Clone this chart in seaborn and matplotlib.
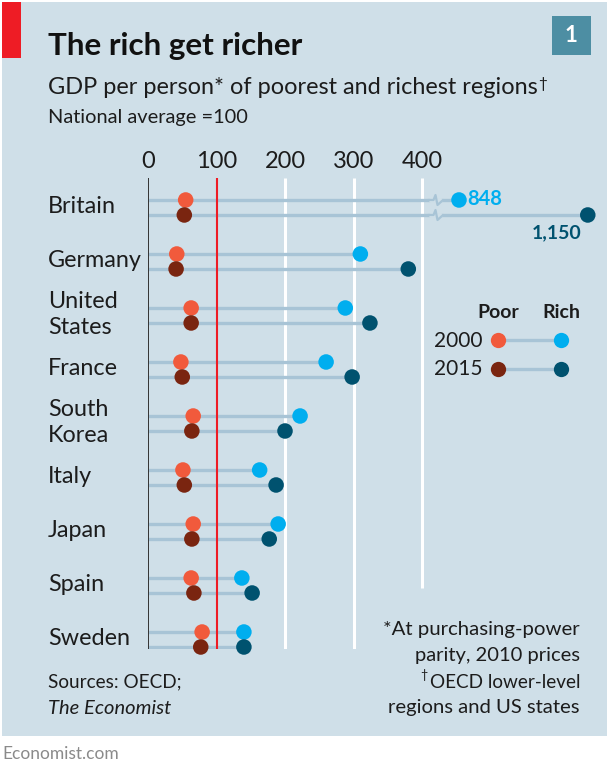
import numpy as np
import pandas as pd
import matplotlib
matplotlib.use("Agg")
import matplotlib.pyplot as plt
from matplotlib.lines import Line2D
from matplotlib.patches import Rectangle
import seaborn as sns

W, H = 609, 775

countries = ["Britain", "Germany", "United\nStates", "France", "South\nKorea",
             "Italy", "Japan", "Spain", "Sweden"]
poor_2000 = [55, 42, 63, 48, 66, 51, 66, 63, 79]
poor_2015 = [53, 41, 63, 50, 64, 53, 64, 67, 77]
rich_2000 = [848, 310, 288, 260, 222, 163, 190, 137, 140]
rich_2015 = [1150, 380, 324, 298, 200, 187, 177, 152, 140]
x_ticks = [0, 100, 200, 300, 400]

BG = "#cfdfe8"
LINE = "#a8c4d6"
RED = "#ee1c25"
POOR_00, POOR_15 = "#f15a3c", "#7a2510"
RICH_00, RICH_15 = "#00aeef", "#00526f"
INK = "#1c1c1c"

sns.set_theme(style="white")
plt.rcParams["font.family"] = ["Lato", "DejaVu Sans"]


def px(x, y):
    # pixel position in the image -> figure fraction
    return x / W, 1 - y / H


# the axis is broken after 400: the two outliers get squeezed in
def fwd(v):
    return np.interp(v, [-1000, 400, 848, 1150, 3000], [-1000, 400, 454, 642, 2500])


def inv(v):
    return np.interp(v, [-1000, 400, 454, 642, 2500], [-1000, 400, 848, 1150, 3000])


fig = plt.figure(figsize=(W / 100, H / 100), dpi=100, facecolor="white")
fig.add_artist(Rectangle(px(2, 736), 605 / W, 734 / H, transform=fig.transFigure,
                         fc=BG, ec="none", zorder=-5))
fig.add_artist(Rectangle(px(2, 58), 19 / W, 56 / H, transform=fig.transFigure,
                         fc=RED, ec="none", zorder=-4))
fig.add_artist(Rectangle(px(552, 55), 39 / W, 39 / H, transform=fig.transFigure,
                         fc="#4d8ea3", ec="none", zorder=-4))

ax = fig.add_axes([148 / W, 1 - 649 / H, (607 - 148) / W, (649 - 178) / H])
ax.patch.set_alpha(0)
ax.set_xscale("function", functions=(fwd, inv))
ax.set_xlim(0, inv(459 / 0.685))
ax.set_ylim(8.176, -0.546)
ax.axis("off")

rows = np.arange(len(countries))
off = 7.5 / 54
frames = []
for name, vals, dy in [("poor 2000", poor_2000, -off), ("rich 2000", rich_2000, -off),
                       ("poor 2015", poor_2015, off), ("rich 2015", rich_2015, off)]:
    frames.append(pd.DataFrame({"value": vals, "row": rows + dy, "series": name}))
df = pd.concat(frames, ignore_index=True)

# grid
ax.vlines(200, -0.546, 8.176, color="white", lw=2.2, zorder=1)
ax.vlines(300, -0.546, 8.176, color="white", lw=2.2, zorder=1)
ax.vlines(400, -0.546, 7.04, color="white", lw=2.2, zorder=1)

# connectors
ax.hlines(rows - off, 0, rich_2000, color=LINE, lw=2.4, zorder=2)
ax.hlines(rows + off, 0, rich_2015, color=LINE, lw=2.4, zorder=2)
ax.vlines(0, -0.546, 8.176, color="#333333", lw=1.4, zorder=3)
ax.vlines(100, -0.546, 8.176, color=RED, lw=1.5, zorder=3)

sns.scatterplot(data=df, x="value", y="row", hue="series", ax=ax, s=125, linewidth=0,
                palette={"poor 2000": POOR_00, "rich 2000": RICH_00,
                         "poor 2015": POOR_15, "rich 2015": RICH_15},
                legend=False, zorder=4, clip_on=False)
ax.axis("off")

# axis break squiggles
for yy in (200, 215):
    xs = np.array([428, 433.5, 435.5, 437.5, 443])
    ys = yy + np.array([0, 0, -5, 5, 0])
    fig.add_artist(Line2D([(x) / W for x in [431, 440]], [1 - yy / H] * 2, color=BG, lw=3.5, zorder=5))
    fig.add_artist(Line2D(xs / W, 1 - ys / H, color=LINE, lw=1.6, zorder=6))


def put(x, y, s, size, **kw):
    kw.setdefault("color", INK)
    kw.setdefault("va", "center")
    fig.text(*px(x, y), s, fontsize=size, **kw)


for v in x_ticks:
    put(148 + v * 0.685, 162, str(v), 17, ha="center")

for i, name in enumerate(countries):
    put(48, 206.5 + i * 54, name, 16.8, linespacing=1.28)

put(48, 46, "The rich get richer", 22.6, fontweight="bold", color="#111111")
put(48, 87, "GDP per person* of poorest and richest regions", 16.95)
put(538, 84, "†", 11)
put(48, 118, "National average =100", 14.4)
put(571, 36, "1", 16, ha="center", color="white", fontweight="bold")

put(467, 199, "848", 14.5, color=RICH_00, fontweight="bold")
put(582, 233, "1,150", 14, color=RICH_15, ha="right", fontweight="bold")

# key
put(498, 312, "Poor", 14, ha="center", fontweight="bold")
put(561, 312, "Rich", 14, ha="center", fontweight="bold")
put(434, 341, "2000", 15)
put(434, 369, "2015", 15)
for yy, c1, c2 in [(340, POOR_00, RICH_00), (369, POOR_15, RICH_15)]:
    fig.add_artist(Line2D([498 / W, 561 / W], [1 - yy / H] * 2, color=LINE, lw=2.4, zorder=2))
    fig.add_artist(Line2D([498 / W], [1 - yy / H], marker="o", ms=11, mfc=c1, mec="none", zorder=3))
    fig.add_artist(Line2D([561 / W], [1 - yy / H], marker="o", ms=11, mfc=c2, mec="none", zorder=3))

# footnotes
put(48, 682, "Sources: OECD;", 13.7)
put(48, 708, "The Economist", 14.5, fontstyle="italic")
put(580, 630, "*At purchasing-power", 14.7, ha="right")
put(580, 656, "parity, 2010 prices", 14.5, ha="right")
put(580, 682, "OECD lower-level", 13.6, ha="right")
put(420, 675, "†", 9)
put(580, 708, "regions and US states", 14.6, ha="right")
put(2, 754, "Economist.com", 12.5, color="#8a8a8a")

fig.savefig("out.png", dpi=100, facecolor="white")
